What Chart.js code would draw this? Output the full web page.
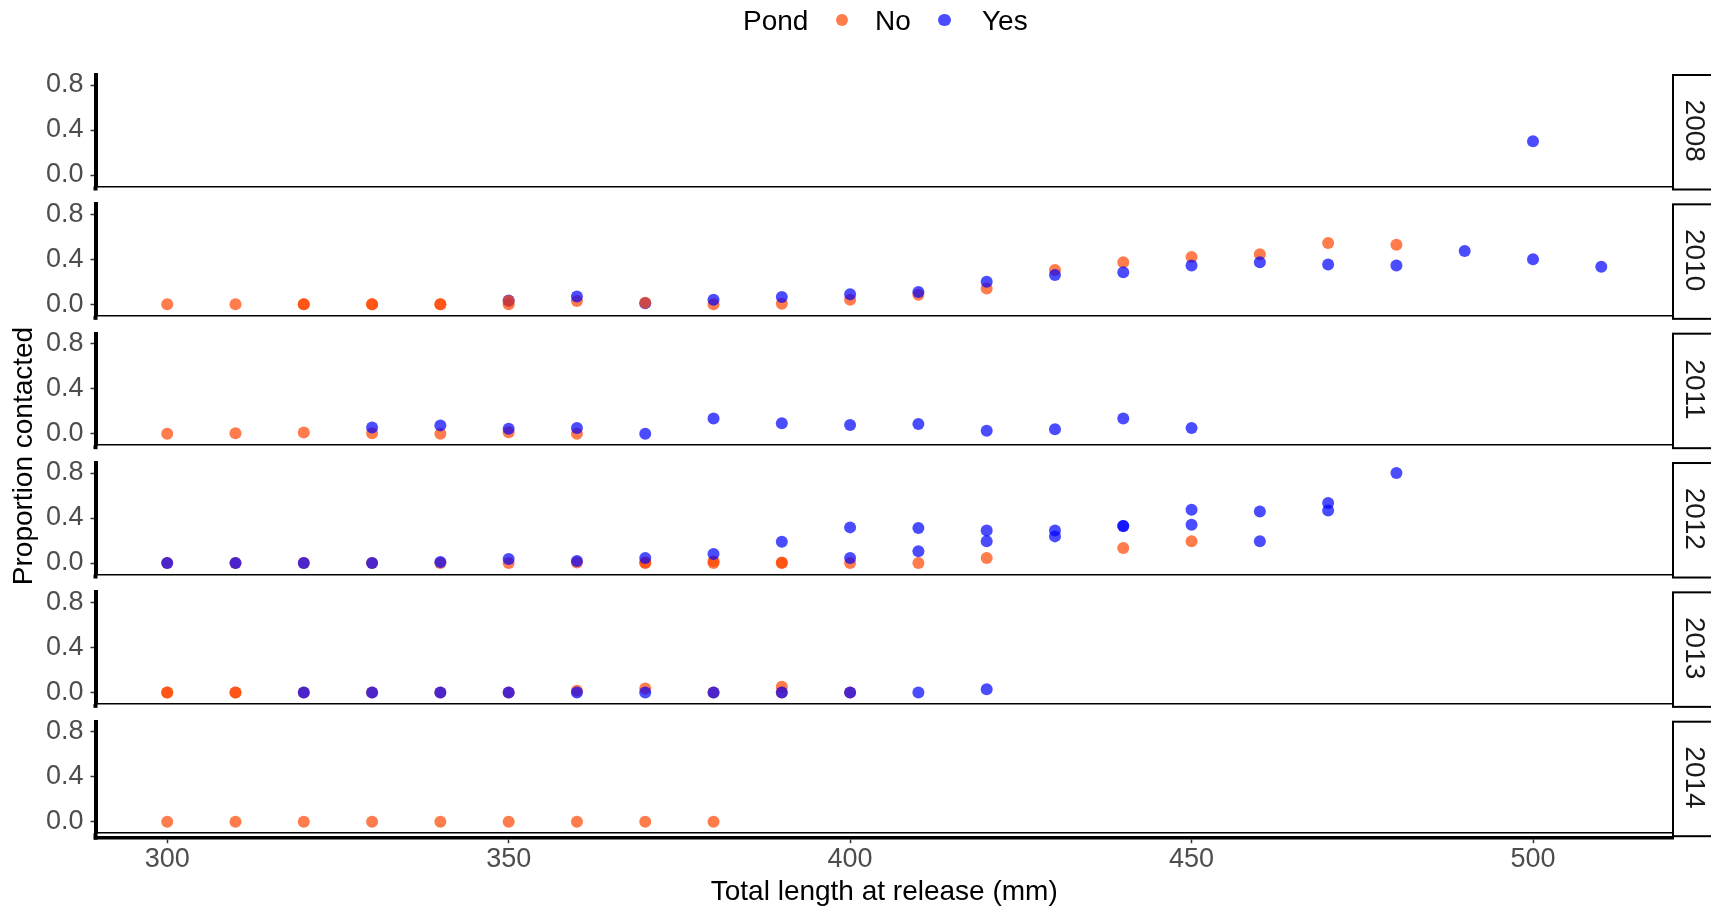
<!DOCTYPE html>
<html>
<head>
<meta charset="utf-8">
<script src="https://cdn.jsdelivr.net/npm/chart.js@4.4.1/dist/chart.umd.min.js"></script>
<style>
html,body{margin:0;padding:0;background:#fff;}
#wrap{position:relative;width:1711px;height:909px;overflow:hidden;font-family:"Liberation Sans",Arial,sans-serif;background:#fff;}
#wrap canvas{position:absolute;left:0;}
.lg{position:absolute;font-size:28px;line-height:28px;color:#000;white-space:nowrap;}
.dot{position:absolute;width:12.4px;height:12.4px;border-radius:50%;}
</style>
</head>
<body>
<div id="wrap"></div>
<script>
// ---------------- data ----------------
const years = ['2008', '2010', '2011', '2012', '2013', '2014'];
const pondGroups = ['No', 'Yes'];
const xTicks = [300, 350, 400, 450, 500];
const yTicks = [0.0, 0.4, 0.8];
const xTitle = 'Total length at release (mm)';
const yTitle = 'Proportion contacted';
const legendTitle = 'Pond';

// [length, proportion]
const no2008 = [];
const yes2008 = [[500, 0.30]];
const noTop2008 = [];

const no2010 = [[300,0],[310,0],[320,0],[320,0],[330,0],[330,0],[340,0],[340,0],[350,0],[360,0.03],[380,0],[390,0.005],[400,0.04],[410,0.085],[420,0.14],[430,0.305],[440,0.375],[450,0.42],[460,0.445],[470,0.545],[480,0.53]];
const yes2010 = [[350,0.035],[360,0.07],[370,0.01],[380,0.04],[390,0.065],[400,0.09],[410,0.11],[420,0.2],[430,0.26],[440,0.285],[450,0.345],[460,0.375],[470,0.355],[480,0.345],[490,0.475],[500,0.4],[510,0.335]];
const noTop2010 = [[350,0.03],[370,0.015]];

const no2011 = [[300,0],[310,0.005],[320,0.01],[330,0.005],[340,0],[350,0.012],[360,0]];
const yes2011 = [[330,0.056],[340,0.074],[350,0.045],[360,0.05],[370,0],[380,0.135],[390,0.093],[400,0.078],[410,0.087],[420,0.027],[430,0.04],[440,0.135],[450,0.05]];
const noTop2011 = [];

const no2012 = [[300,0],[310,0],[320,0],[330,0],[340,0],[350,0],[360,0.005],[370,0],[370,0.005],[380,0],[380,0.015],[390,0],[390,0.005],[400,0],[410,0],[420,0.045],[440,0.133],[450,0.193]];
const yes2012 = [[300,0],[310,0],[320,0],[330,0],[340,0.01],[350,0.035],[360,0.018],[370,0.045],[380,0.08],[390,0.19],[400,0.317],[400,0.045],[410,0.311],[410,0.104],[420,0.29],[420,0.193],[430,0.29],[430,0.237],[440,0.33],[440,0.33],[450,0.474],[450,0.341],[460,0.459],[460,0.193],[470,0.533],[470,0.467],[480,0.8]];
const noTop2012 = [];

const no2013 = [[300,0],[300,0],[310,0],[310,0],[320,0],[330,0],[340,0],[350,0],[360,0.015],[370,0.035],[380,0],[390,0.05],[390,0],[400,0]];
const yes2013 = [[320,0],[330,0],[340,0],[350,0],[360,0],[370,0],[380,0],[390,0],[400,0],[410,0],[420,0.027]];
const noTop2013 = [];

const no2014 = [[300,0],[310,0],[320,0],[330,0],[340,0],[350,0],[360,0],[370,0],[380,0]];
const yes2014 = [];
const noTop2014 = [];

const noByYear = [no2008, no2010, no2011, no2012, no2013, no2014];
const yesByYear = [yes2008, yes2010, yes2011, yes2012, yes2013, yes2014];
const noTopByYear = [noTop2008, noTop2010, noTop2011, noTop2012, noTop2013, noTop2014];

// ---------------- styling / layout ----------------
const FONT = '"Liberation Sans", Arial, sans-serif';
Chart.defaults.font.family = FONT;
Chart.defaults.animation = false;
const NO_COLOR = 'rgba(255,69,0,0.7)';
const YES_COLOR = 'rgba(0,0,255,0.7)';
const W = 1711, H = 909;
const X_MIN = 289.5, X_MAX = 520.5;
const Y_MIN = -0.102, Y_MAX = 0.889;
const PANEL0_TOP = 75.0, PANEL_STEP = 129.34, PANEL_H = 111.5;
const LEFT = 95.5, RIGHT_EDGE = 1673;
const POINT_R = 6;

const wrap = document.getElementById('wrap');

function addCanvas(top, height) {
  const c = document.createElement('canvas');
  c.width = W; c.height = height;
  c.style.top = top + 'px';
  c.style.width = W + 'px'; c.style.height = height + 'px';
  wrap.appendChild(c);
  return c;
}

// strip + axis-corner plugin
const stripPlugin = {
  id: 'strip',
  afterDraw(chart, args, opts) {
    if (!opts || !opts.label) return;
    const {ctx, chartArea: a} = chart;
    ctx.save();
    ctx.fillStyle = '#000';
    ctx.fillRect(a.left - 2, a.bottom, 4, opts.ext);
    ctx.lineWidth = 2;
    ctx.strokeStyle = '#000';
    ctx.strokeRect(a.right, a.top, 80, a.bottom - a.top + 3);
    ctx.fillStyle = '#1a1a1a';
    ctx.font = '28px ' + FONT;
    ctx.translate(a.right + 20.5, (a.top + a.bottom) / 2);
    ctx.rotate(Math.PI / 2);
    ctx.textAlign = 'center';
    ctx.textBaseline = 'middle';
    ctx.fillText(opts.label, 0, 0);
    ctx.restore();
  }
};

// background frame chart carrying the shared y-axis title
(function frame() {
  const c = addCanvas(0, H);
  new Chart(c, {
    type: 'scatter',
    data: {datasets: []},
    options: {
      responsive: false, devicePixelRatio: 1, animation: false,
      layout: {padding: {left: 0, right: 1500, top: 100, bottom: 97}},
      plugins: {legend: {display: false}, tooltip: {enabled: false}},
      scales: {
        x: {display: false, min: X_MIN, max: X_MAX},
        y: {
          position: 'left', min: Y_MIN, max: Y_MAX,
          ticks: {display: false}, grid: {display: false}, border: {display: false},
          title: {display: true, text: yTitle, color: '#000', font: {size: 28, family: FONT}, padding: {top: 7, bottom: 0}}
        }
      }
    }
  });
})();

function toPts(arr) { return arr.map(p => ({x: p[0], y: p[1]})); }

years.forEach((yr, i) => {
  const isLast = i === years.length - 1;
  const top = PANEL0_TOP + PANEL_STEP * i;
  const bottom = top + PANEL_H;
  const canvasTop = Math.floor(top) - 20;
  const padTop = top - canvasTop;
  let height, padBottom, xH, x2H;
  if (!isLast) {
    height = Math.ceil(bottom + 20) - canvasTop;
    padBottom = height - (bottom - canvasTop);
    xH = 0; x2H = 0;
  } else {
    height = H - canvasTop;
    padBottom = 0;
    xH = 5; x2H = H - bottom - 5;
  }
  const c = addCanvas(canvasTop, height);
  const ds = (label, arr, color) => ({
    label, data: toPts(arr), backgroundColor: color, borderWidth: 0,
    pointRadius: POINT_R, pointHoverRadius: POINT_R, pointBorderWidth: 0, clip: false
  });
  const scales = {
    x: {
      type: 'linear', axis: 'x', position: 'bottom', weight: 0, min: X_MIN, max: X_MAX,
      ticks: {display: false},
      grid: {display: true, drawOnChartArea: false, drawTicks: false},
      border: {display: true, color: '#000', width: 1.5},
      afterFit: s => { s.height = xH; s.paddingLeft = 0; s.paddingRight = 0; }
    },
    y: {
      type: 'linear', position: 'left', min: Y_MIN, max: Y_MAX,
      afterBuildTicks: s => { s.ticks = yTicks.map(v => ({value: v})); },
      ticks: {color: '#4d4d4d', font: {size: 27, family: FONT}, padding: 7, callback: v => Number(v).toFixed(1)},
      grid: {display: true, drawOnChartArea: false, drawTicks: true, tickLength: 5, tickWidth: 1.5, tickColor: '#333'},
      border: {display: true, color: '#000', width: 4},
      afterFit: s => { s.width = LEFT; s.paddingTop = 0; s.paddingBottom = 0; }
    }
  };
  if (isLast) {
    scales.x2 = {
      type: 'linear', axis: 'x', position: 'bottom', weight: 1, min: X_MIN, max: X_MAX,
      afterBuildTicks: s => { s.ticks = xTicks.map(v => ({value: v})); },
      ticks: {color: '#4d4d4d', font: {size: 27, family: FONT}, padding: 0, maxRotation: 0, autoSkip: false, callback: v => String(v)},
      grid: {display: true, drawOnChartArea: false, drawTicks: true, tickLength: 5, tickWidth: 1.5, tickColor: '#333'},
      border: {display: true, color: '#000', width: 3.5},
      title: {display: true, text: xTitle, color: '#000', font: {size: 28, family: FONT}, padding: {top: 0, bottom: 0}},
      afterFit: s => { s.height = x2H; s.paddingLeft = 0; s.paddingRight = 0; }
    };
  }
  // Chart.js paints dataset 0 last (on top): order = [No drawn over Yes, Yes, No underneath]
  new Chart(c, {
    type: 'scatter',
    data: {
      datasets: [
        ds(pondGroups[0], noTopByYear[i], NO_COLOR),
        ds(pondGroups[1], yesByYear[i], YES_COLOR),
        ds(pondGroups[0], noByYear[i], NO_COLOR)
      ]
    },
    options: {
      responsive: false, devicePixelRatio: 1, animation: false,
      layout: {padding: {left: 0, right: W - RIGHT_EDGE, top: padTop, bottom: padBottom}},
      plugins: {legend: {display: false}, tooltip: {enabled: false}, strip: {label: yr, ext: isLast ? 6.5 : 4}},
      scales
    },
    plugins: [stripPlugin]
  });
});

// legend (HTML, positioned like the ggplot top legend)
(function legend() {
  const items = [
    {cls: 'lg', text: legendTitle, style: 'left:743px;top:7px'},
    {cls: 'dot', color: NO_COLOR, style: 'left:836px;top:14px'},
    {cls: 'lg', text: pondGroups[0], style: 'left:875px;top:7px'},
    {cls: 'dot', color: YES_COLOR, style: 'left:938.3px;top:14px'},
    {cls: 'lg', text: pondGroups[1], style: 'left:982px;top:7px'}
  ];
  items.forEach(it => {
    const d = document.createElement('div');
    d.className = it.cls;
    d.setAttribute('style', it.style + (it.color ? ';background:' + it.color : ''));
    if (it.text) d.textContent = it.text;
    wrap.appendChild(d);
  });
})();
</script>
</body>
</html>
